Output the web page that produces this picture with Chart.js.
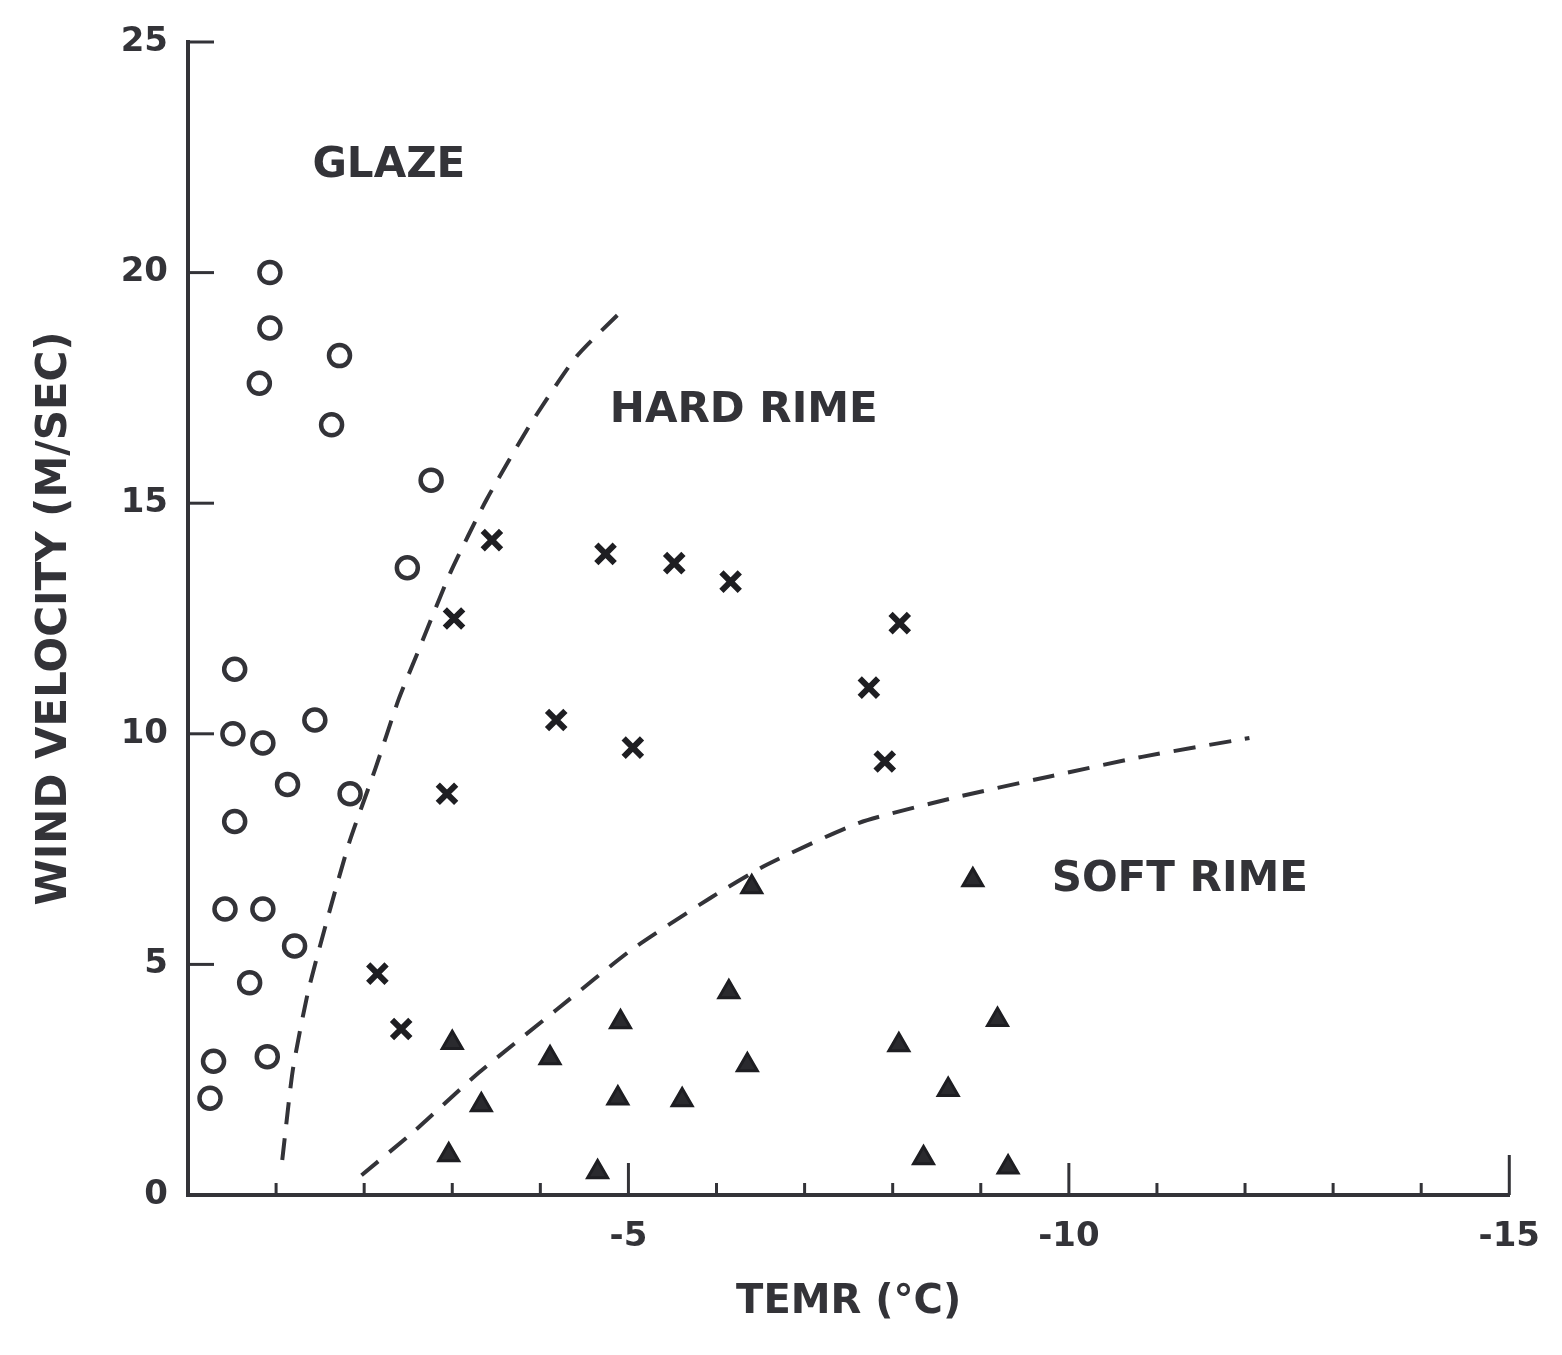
<!DOCTYPE html>
<html>
<head>
<meta charset="utf-8">
<script src="https://cdn.jsdelivr.net/npm/chart.js@4.4.1/dist/chart.umd.min.js"></script>
<style>
  html, body { margin: 0; padding: 0; background: #fff; }
</style>
</head>
<body>
<canvas id="icingChart" width="1562" height="1355"></canvas>
<script>
// Glaze observations (open circles): temperature degC / wind m/s
const glazeTemp = [-0.93, -0.93, -0.81, -1.72, -1.63, -2.76, -2.49, -0.53, -0.51, -0.85, -1.44,
                   -1.13, -1.84, -0.53, -0.42, -0.85, -1.21, -0.70, -0.29, -0.90, -0.25];
const glazeWind = [20.0, 18.8, 17.6, 18.2, 16.7, 15.5, 13.6, 11.4, 10.0, 9.8, 10.3,
                   8.9, 8.7, 8.1, 6.2, 6.2, 5.4, 4.6, 2.9, 3.0, 2.1];

// Hard rime (crosses)
const hardTemp = [-3.45, -3.02, -4.74, -5.52, -6.16, -4.18, -5.05, -2.94, -8.08, -7.73, -7.91, -2.15, -2.42];
const hardWind = [14.2, 12.5, 13.9, 13.7, 13.3, 10.3, 9.7, 8.7, 12.4, 11.0, 9.4, 4.8, 3.6];

// Soft rime (triangles)
const softTemp = [-3.0, -3.33, -2.96, -4.11, -4.91, -4.88, -4.65, -5.61, -6.14, -6.35, -6.4,
                  -8.91, -9.19, -8.07, -8.63, -8.35, -9.31];
const softWind = [3.3, 1.95, 0.87, 2.97, 3.75, 2.1, 0.5, 2.06, 4.4, 2.82, 6.68,
                  6.83, 3.8, 3.25, 2.28, 0.8, 0.6];

// dashed boundaries
const glazeLineTemp = [-1.07, -1.19, -1.36, -1.58, -1.83, -2.13, -2.39, -2.62, -2.98, -3.39, -3.9, -4.41, -4.94];
const glazeLineWind = [0.76, 2.71, 4.38, 5.97, 7.64, 9.26, 10.74, 11.82, 13.5, 15.08, 16.75, 18.18, 19.2];
const rimeLineTemp = [-1.97, -2.56, -3.3, -4.18, -5.03, -5.93, -6.57, -7.62, -8.69, -9.77, -10.83, -12.05];
const rimeLineWind = [0.43, 1.37, 2.65, 4.01, 5.31, 6.44, 7.16, 8.07, 8.61, 9.07, 9.5, 9.91];

// axis ticks
const xLabelled = [-5, -10, -15];
const yTicks = [0, 5, 10, 15, 20, 25];

// region names
const regionNames = ['GLAZE', 'HARD RIME', 'SOFT RIME'];
const regionTemp = [-2.28, -6.31, -11.26];
const regionWind = [22.3, 17.0, 6.83];

const ink = '#333338';
const fontFam = '"DejaVu Sans", "Liberation Sans", sans-serif';

function pts(xs, ys) {
    return xs.map((v, i) => ({ x: v, y: ys[i] }));
}

// tick marks drawn into the plot, like the original figure
const inwardTicks = {
    id: 'inwardTicks',
    afterDraw(chart) {
        const { ctx, scales: { x, y } } = chart;
        ctx.save();
        ctx.strokeStyle = ink;
        ctx.lineWidth = 3;
        x.ticks.forEach(t => {
            if (t.value === 0) return;
            const px = x.getPixelForValue(t.value);
            let len = 12;
            if (t.value % 5 === 0) len = 32;
            if (t.value === -15) len = 40;
            ctx.beginPath();
            ctx.moveTo(px, x.top);
            ctx.lineTo(px, x.top - len);
            ctx.stroke();
        });
        y.ticks.forEach(t => {
            if (t.value === 0) return;
            const py = y.getPixelForValue(t.value);
            ctx.beginPath();
            ctx.moveTo(y.right, py);
            ctx.lineTo(y.right + 26, py);
            ctx.stroke();
        });
        ctx.restore();
    }
};

const regionLabels = {
    id: 'regionLabels',
    afterDatasetsDraw(chart) {
        const { ctx, scales: { x, y } } = chart;
        ctx.save();
        ctx.fillStyle = ink;
        ctx.font = 'bold 42px ' + fontFam;
        ctx.textAlign = 'center';
        ctx.textBaseline = 'middle';
        regionNames.forEach((name, i) => {
            ctx.fillText(name, x.getPixelForValue(regionTemp[i]), y.getPixelForValue(regionWind[i]));
        });
        ctx.restore();
    }
};

const ctx = document.getElementById('icingChart').getContext('2d');
const chart = new Chart(ctx, {
    type: 'scatter',
    data: {
        datasets: [
            {
                type: 'line',
                data: pts(glazeLineTemp, glazeLineWind),
                borderColor: ink,
                borderWidth: 4,
                borderDash: [22, 14],
                pointRadius: 0,
                tension: 0.2,
                fill: false
            },
            {
                type: 'line',
                data: pts(rimeLineTemp, rimeLineWind),
                borderColor: ink,
                borderWidth: 4,
                borderDash: [22, 14],
                pointRadius: 0,
                tension: 0.2,
                fill: false
            },
            {
                label: 'Glaze',
                data: pts(glazeTemp, glazeWind),
                pointStyle: 'circle',
                pointRadius: 10.5,
                borderWidth: 4.5,
                borderColor: ink,
                backgroundColor: 'rgba(255,255,255,0)'
            },
            {
                label: 'Hard rime',
                data: pts(hardTemp, hardWind),
                pointStyle: 'crossRot',
                pointRadius: 13,
                borderWidth: 6,
                borderColor: '#1e1e22'
            },
            {
                label: 'Soft rime',
                data: pts(softTemp, softWind),
                pointStyle: 'triangle',
                pointRadius: 11.5,
                borderWidth: 3,
                borderColor: '#1e1e22',
                backgroundColor: '#2a2a2e'
            }
        ]
    },
    options: {
        responsive: false,
        animation: false,
        layout: { padding: { left: 0, top: 42, right: 46, bottom: 0 } },
        plugins: {
            legend: { display: false },
            tooltip: { enabled: false }
        },
        scales: {
            x: {
                type: 'linear',
                min: -15,
                max: 0,
                reverse: true,
                afterFit: s => { s.height = 160; },
                border: { display: true, color: ink, width: 4 },
                grid: { display: false, drawTicks: false },
                ticks: {
                    stepSize: 1,
                    autoSkip: false,
                    maxRotation: 0,
                    padding: 22,
                    color: ink,
                    font: { family: fontFam, size: 34, weight: 'bold' },
                    callback: v => xLabelled.includes(v) ? String(v) : ''
                },
                title: {
                    display: true,
                    text: 'TEMR (°C)',
                    color: ink,
                    font: { family: fontFam, size: 40, weight: 'bold' },
                    padding: { top: 0, bottom: 28 }
                }
            },
            y: {
                type: 'linear',
                min: 0,
                max: 25,
                afterFit: s => { s.width = 188; },
                border: { display: true, color: ink, width: 4 },
                grid: { display: false, drawTicks: false },
                afterBuildTicks: s => { s.ticks = yTicks.map(v => ({ value: v })); },
                ticks: {
                    padding: 20,
                    color: ink,
                    font: { family: fontFam, size: 34, weight: 'bold' }
                },
                title: {
                    display: true,
                    text: 'WIND VELOCITY (M/SEC)',
                    color: ink,
                    font: { family: fontFam, size: 42, weight: 'bold' },
                    padding: { top: 30, bottom: 0 }
                }
            }
        }
    },
    plugins: [inwardTicks, regionLabels]
});
</script>
</body>
</html>
